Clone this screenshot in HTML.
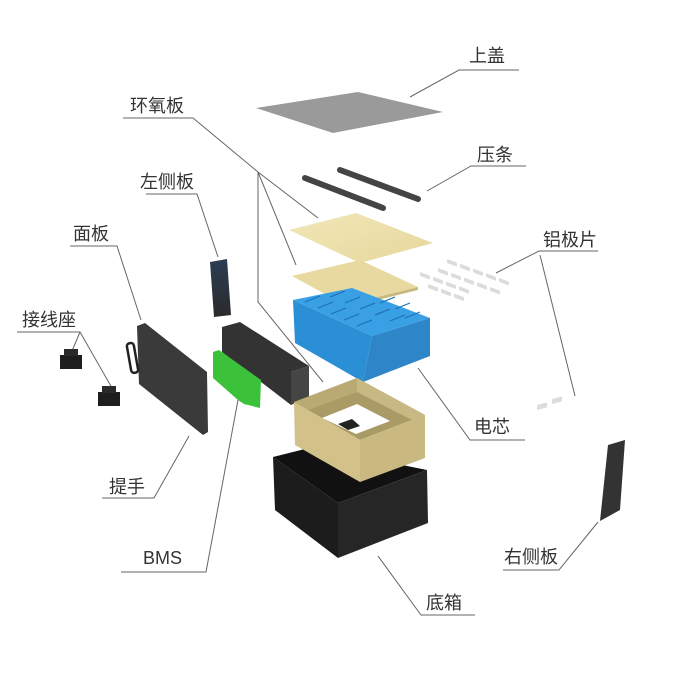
<!DOCTYPE html>
<html><head><meta charset="utf-8"><style>
html,body{margin:0;padding:0;background:#fff;}
svg{display:block}
text{font-family:"Liberation Sans","Noto Sans CJK SC",sans-serif;font-size:18px;fill:#333;}
</style></head><body>
<svg width="700" height="700" viewBox="0 0 700 700" xmlns="http://www.w3.org/2000/svg">
<defs>
<linearGradient id="yel" x1="0" y1="0" x2="1" y2="1"><stop offset="0" stop-color="#f1e7b8"/><stop offset="1" stop-color="#e6d79c"/></linearGradient>
<linearGradient id="lp" x1="0" y1="0" x2="0" y2="1"><stop offset="0" stop-color="#2c3d55"/><stop offset="1" stop-color="#2a2a2a"/></linearGradient>
</defs>
<g stroke="#666" stroke-width="1" fill="none">
<polyline points="410,97 459,70 519,70"/>
<polyline points="427,191 471,166 526,166"/>
<polyline points="123,118 193,118 258,172 318,218"/>
<line x1="258" y1="172" x2="296" y2="265"/>
<polyline points="258,172 258,302 323,382"/>
<polyline points="146,194 197,194 218,257"/>
<polyline points="70,246 117,246 141,320"/>
<polyline points="17,332 80,332 112,388"/>
<line x1="80" y1="332" x2="72" y2="351"/>
<polyline points="102,498 154,498 189,436"/>
<polyline points="121,572 206,572 238,400"/>
<polyline points="418,368 470,440 525,440"/>
<polyline points="496,273 539,251 598,251"/>
<line x1="540" y1="255" x2="575" y2="396"/>
<polyline points="378,556 421,615 475,615"/>
<polyline points="598,522 559,570 503,570"/>
</g>

<polygon points="256,108 358,92 443,112 333,133" fill="#9a9a9a"/>
<line x1="305" y1="178" x2="383" y2="208" stroke="#444" stroke-width="6" stroke-linecap="round"/>
<line x1="340" y1="170" x2="418" y2="199" stroke="#444" stroke-width="6" stroke-linecap="round"/>
<polygon points="289,230 356,213 433,243 360,263" fill="url(#yel)"/>
<polygon points="292,276 360,260 418,287 345,305" fill="#e8d9a0"/>
<polygon points="345,305 418,287 418,290 345,308" fill="#c9b97a"/>
<g fill="#dcdcdc">
<g transform="translate(447,259) skewY(20)"><rect x="0" y="0" width="10" height="4" rx="1"/><rect x="13" y="0" width="10" height="4" rx="1"/><rect x="26" y="0" width="10" height="4" rx="1"/><rect x="39" y="0" width="10" height="4" rx="1"/><rect x="52" y="0" width="10" height="4" rx="1"/></g>
<g transform="translate(438,268) skewY(20)"><rect x="0" y="0" width="10" height="4" rx="1"/><rect x="13" y="0" width="10" height="4" rx="1"/><rect x="26" y="0" width="10" height="4" rx="1"/><rect x="39" y="0" width="10" height="4" rx="1"/><rect x="52" y="0" width="10" height="4" rx="1"/></g>
<g transform="translate(420,272) skewY(20)"><rect x="0" y="0" width="10" height="4" rx="1"/><rect x="13" y="0" width="10" height="4" rx="1"/><rect x="26" y="0" width="10" height="4" rx="1"/><rect x="39" y="0" width="10" height="4" rx="1"/></g>
<g transform="translate(428,284) skewY(20)"><rect x="0" y="0" width="10" height="4" rx="1"/><rect x="13" y="0" width="10" height="4" rx="1"/><rect x="26" y="0" width="10" height="4" rx="1"/></g>
<g transform="translate(537,405) skewY(-15)"><rect x="0" y="0" width="10" height="5" rx="1"/><rect x="15" y="-2" width="10" height="5" rx="1"/></g>
</g>
<polygon points="293,300 352,288 430,318 372,336" fill="#3aa0e6"/>
<polygon points="293,300 372,336 363,382 295,343" fill="#2b8fd6"/>
<polygon points="372,336 430,318 430,356 363,382" fill="#2e86c8"/>
<g stroke="#1d6fb0" stroke-width="1.2">
<line x1="305" y1="302" x2="320" y2="296"/><line x1="318" y1="308" x2="333" y2="302"/><line x1="331" y1="314" x2="346" y2="308"/><line x1="344" y1="320" x2="359" y2="314"/><line x1="357" y1="326" x2="372" y2="320"/>
<line x1="330" y1="297" x2="345" y2="291"/><line x1="345" y1="303" x2="360" y2="297"/><line x1="360" y1="309" x2="375" y2="303"/><line x1="375" y1="315" x2="390" y2="309"/><line x1="390" y1="321" x2="405" y2="315"/>
<line x1="380" y1="303" x2="395" y2="297"/><line x1="395" y1="309" x2="410" y2="303"/><line x1="405" y1="318" x2="420" y2="312"/>
</g>
<polygon points="210,262 227,259 231,315 214,317" fill="url(#lp)"/>
<polygon points="222,327 240,322 309,366 291,372 291,405 222,352" fill="#333"/>
<polygon points="291,372 309,366 309,397 291,405" fill="#454545"/>
<polygon points="213,352 219,350 261,380 260,408 244,404 238,400 213,378" fill="#3cc23a"/>
<polygon points="137,326 145,323 207,372 208,432 203,435 139,384" fill="#3a3a3a"/>
<rect x="129" y="343" width="7" height="30" rx="3" fill="none" stroke="#222" stroke-width="2.5" transform="rotate(-10 132 358)"/>
<rect x="60" y="355" width="22" height="14" fill="#1e1e1e"/><rect x="64" y="349" width="14" height="7" fill="#2a2a2a"/>
<rect x="98" y="392" width="22" height="14" fill="#1e1e1e"/><rect x="102" y="386" width="14" height="7" fill="#2a2a2a"/>

<!-- black box (behind tan box) -->
<polygon points="273,457 313,447 427,470 338,503" fill="#111"/>
<polygon points="273,457 338,503 338,558 275,510" fill="#1c1c1c"/>
<polygon points="338,503 427,470 428,523 338,558" fill="#262626"/>
<!-- tan box -->
<polygon points="294,402 357,378 425,415 360,440" fill="#a99a66"/>
<polygon points="357,378 357,392 412,420 425,415" fill="#c8b984"/>
<polygon points="294,402 357,378 357,392 308,410" fill="#b9aa74"/>
<polygon points="322,418 357,404 390,421 356,434" fill="#fff"/>
<polygon points="338,424 352,419 360,426 348,430" fill="#222"/>
<polygon points="294,402 360,440 360,482 295,445" fill="#d2c28a"/>
<polygon points="360,440 425,415 425,458 360,482" fill="#c9b880"/>
<polygon points="608,445 625,440 620,510 600,521" fill="#333"/>

<text x="469" y="62">上盖</text>
<text x="477" y="161">压条</text>
<text x="130" y="112">环氧板</text>
<text x="140" y="188">左侧板</text>
<text x="73" y="240">面板</text>
<text x="543" y="246">铝极片</text>
<text x="22" y="326">接线座</text>
<text x="474" y="433">电芯</text>
<text x="109" y="493">提手</text>
<text x="143" y="564">BMS</text>
<text x="504" y="563">右侧板</text>
<text x="426" y="609">底箱</text>
</svg>
</body></html>
